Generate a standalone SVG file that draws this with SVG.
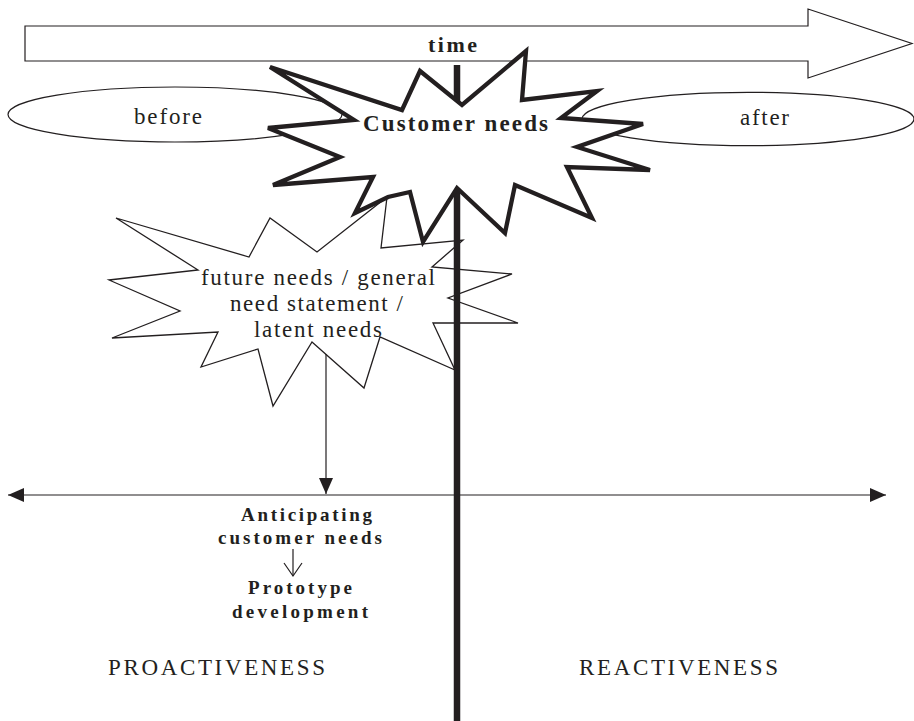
<svg xmlns="http://www.w3.org/2000/svg" width="914" height="721" viewBox="0 0 914 721">
  <style>
    .txt { font-family: "Liberation Serif", "Times New Roman", serif; fill: #231f20; }
    .b { font-weight: bold; }
    .thin { fill: none; stroke: #231f20; stroke-width: 1.2; }
  </style>
  <defs>
    <marker id="solidHead" viewBox="0 0 16 16" refX="16" refY="8" markerWidth="16" markerHeight="16" markerUnits="userSpaceOnUse" orient="auto-start-reverse">
      <path d="M0,1 L16,8 L0,15 Z" fill="#231f20"/>
    </marker>
  </defs>
  <rect width="914" height="721" fill="#ffffff"/>

  <!-- time arrow band -->
  <g id="time">
    <polygon points="25,26 808,26 808,9 912,43.5 808,78 808,61 25,61" fill="#ffffff" stroke="#231f20" stroke-width="1.2"/>
    <text class="txt b" x="428" y="52" font-size="22" textLength="49" lengthAdjust="spacing">time</text>
  </g>

  <!-- before / after ellipses -->
  <g id="before">
    <ellipse cx="175" cy="114.5" rx="167" ry="27.5" fill="#ffffff" stroke="#231f20" stroke-width="1.2"/>
    <text class="txt" x="134" y="124" font-size="23" textLength="68" lengthAdjust="spacing">before</text>
  </g>
  <g id="after">
    <ellipse cx="748" cy="119" rx="166" ry="26.7" fill="#ffffff" stroke="#231f20" stroke-width="1.2"/>
    <text class="txt" x="740" y="125" font-size="23" textLength="49" lengthAdjust="spacing">after</text>
  </g>

  <!-- latent needs burst -->
  <g id="future-needs">
    <polygon points="116,218 249,257 270,218 317,252 387,197 381,248 463,240 432,267 512,274 448,298 518,323 433,323 455,370 380,337 364,388 312,342 273,406 258,349 201,367 218,332 112,338 180,311 109,280 198,270" fill="#ffffff" stroke="#231f20" stroke-width="1.3"/>
    <text class="txt" x="201" y="285" font-size="23" textLength="234" lengthAdjust="spacing">future needs / general</text>
    <text class="txt" x="230" y="311" font-size="23" textLength="173" lengthAdjust="spacing">need statement /</text>
    <text class="txt" x="254" y="337" font-size="23" textLength="128" lengthAdjust="spacing">latent needs</text>
  </g>

  <!-- connectors -->
  <g id="connectors">
    <line x1="457" y1="65" x2="457" y2="721" stroke="#231f20" stroke-width="6.5"/>
    <line x1="8" y1="495" x2="886" y2="495" stroke="#231f20" stroke-width="1.2" marker-start="url(#solidHead)" marker-end="url(#solidHead)"/>
    <line x1="326" y1="354" x2="326" y2="494" stroke="#231f20" stroke-width="1.2" marker-end="url(#solidHead)"/>
    <line x1="293" y1="549" x2="293" y2="576" class="thin"/>
    <polyline points="284,563 293,576 302,563" class="thin"/>
  </g>

  <!-- central burst -->
  <g id="customer-needs">
    <polygon points="270,67 402,110 420,71 462,105 526,51 522,100 597,91 561,118 643,124 577,147 650,170 567,167 592,218 515,185 505,233 457,188 423,242 410,192 388,197 355,213 373,177 273,185 340,157 268,128 354,120" fill="#ffffff" stroke="#231f20" stroke-width="4.3" stroke-linejoin="miter"/>
    <text class="txt b" x="363" y="131" font-size="23" textLength="185" lengthAdjust="spacing">Customer needs</text>
  </g>

  <g id="anticipating">
    <text class="txt b" x="241" y="521" font-size="19" textLength="131" lengthAdjust="spacing">Anticipating</text>
    <text class="txt b" x="218" y="544" font-size="19" textLength="164" lengthAdjust="spacing">customer needs</text>
  </g>
  <g id="prototype">
    <text class="txt b" x="248" y="594" font-size="19" textLength="104" lengthAdjust="spacing">Prototype</text>
    <text class="txt b" x="232" y="618" font-size="19" textLength="136" lengthAdjust="spacing">development</text>
  </g>

  <g id="proactiveness">
    <text class="txt" x="108" y="675" font-size="23" textLength="217" lengthAdjust="spacing">PROACTIVENESS</text>
  </g>
  <g id="reactiveness">
    <text class="txt" x="579" y="675" font-size="23" textLength="199" lengthAdjust="spacing">REACTIVENESS</text>
  </g>
</svg>
